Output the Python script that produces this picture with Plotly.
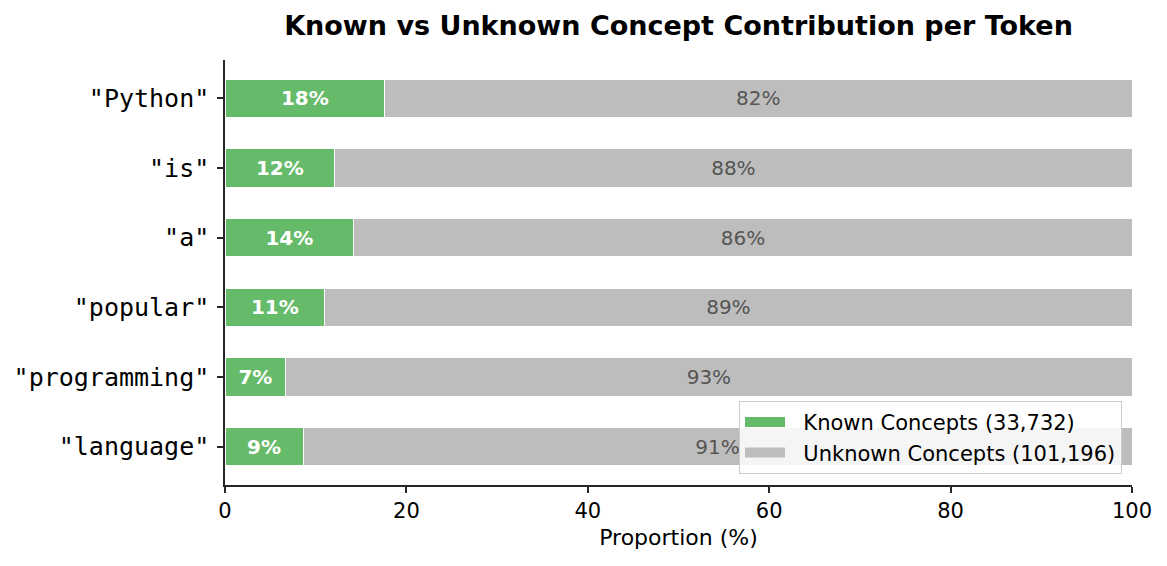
import plotly.graph_objects as go

# token labels, top to bottom
tokens = ['"Python"', '"is"', '"a"', '"popular"', '"programming"', '"language"']
# share of known concepts per token (%)
known_pct = [17.6, 12.1, 14.2, 11.0, 6.7, 8.6]
unknown_pct = [100 - k for k in known_pct]
known_total = 33732
unknown_total = 101196

GREEN = '#66bb6a'
GREY = '#bdbdbd'

fig = go.Figure()
fig.add_trace(go.Bar(
    y=tokens, x=known_pct, orientation='h', width=0.55, showlegend=False,
    marker=dict(color=GREEN, line=dict(color='white', width=1)),
    text=['{:.0f}%'.format(v) for v in known_pct],
    textposition='inside', insidetextanchor='middle', constraintext='none',
    textfont=dict(color='white', size=20, family='DejaVu Sans', weight='bold'),
    hoverinfo='skip'))
fig.add_trace(go.Bar(
    y=tokens, x=unknown_pct, orientation='h', width=0.55, showlegend=False,
    marker=dict(color=GREY, line=dict(color='white', width=1)),
    text=['{:.0f}%'.format(v) for v in unknown_pct],
    textposition='inside', insidetextanchor='middle', constraintext='none',
    textfont=dict(color='#555555', size=20, family='DejaVu Sans'),
    hoverinfo='skip'))

# legend entries drawn as wide patches (like matplotlib)
for name, col in [('Known Concepts ({:,})'.format(known_total), GREEN),
                  ('Unknown Concepts ({:,})'.format(unknown_total), GREY)]:
    fig.add_trace(go.Scatter(x=[None], y=[None], mode='lines', name='\u00a0\u00a0' + name,
                             line=dict(color=col, width=14), hoverinfo='skip'))

# the page adds an 8px body margin, so the figure is 8px smaller and shifted
fig.update_layout(
    barmode='stack',
    width=1159, height=558,
    paper_bgcolor='white', plot_bgcolor='white',
    margin=dict(l=217, r=35, t=52, b=81),
    font=dict(family='DejaVu Sans', color='black', size=20),
    title=dict(text='<b>Known vs Unknown Concept Contribution per Token</b>',
               x=(217 + 1124) / 2 / 1159, xanchor='center', y=1 - 18 / 558, yanchor='middle',
               font=dict(size=27, family='DejaVu Sans', color='black')),
    legend=dict(x=0.989, y=0.026, xanchor='right', yanchor='bottom',
                bgcolor='rgba(255,255,255,0.85)', bordercolor='#cccccc', borderwidth=1,
                font=dict(size=21, family='DejaVu Sans'), traceorder='normal',
                itemwidth=40),
    showlegend=True,
)
fig.update_xaxes(range=[0, 100], tickvals=[0, 20, 40, 60, 80, 100], automargin=False,
                 showgrid=False, zeroline=False, showline=True, linecolor='#262626', linewidth=1.5,
                 ticks='outside', ticklen=6, tickwidth=1.5, tickcolor='#262626',
                 tickfont=dict(size=21, color='black'),
                 title=dict(text='Proportion (%)', font=dict(size=22, color='black'), standoff=8))
fig.update_yaxes(categoryorder='array', categoryarray=tokens, range=[5.55, -0.55], automargin=False,
                 showgrid=False, zeroline=False, showline=True, linecolor='#262626', linewidth=1.5,
                 ticks='outside', ticklen=6, tickwidth=1.5, tickcolor='#262626',
                 ticklabelstandoff=3,
                 tickfont=dict(size=25, family='DejaVu Sans Mono', color='black'))

fig.write_html("out.html")
